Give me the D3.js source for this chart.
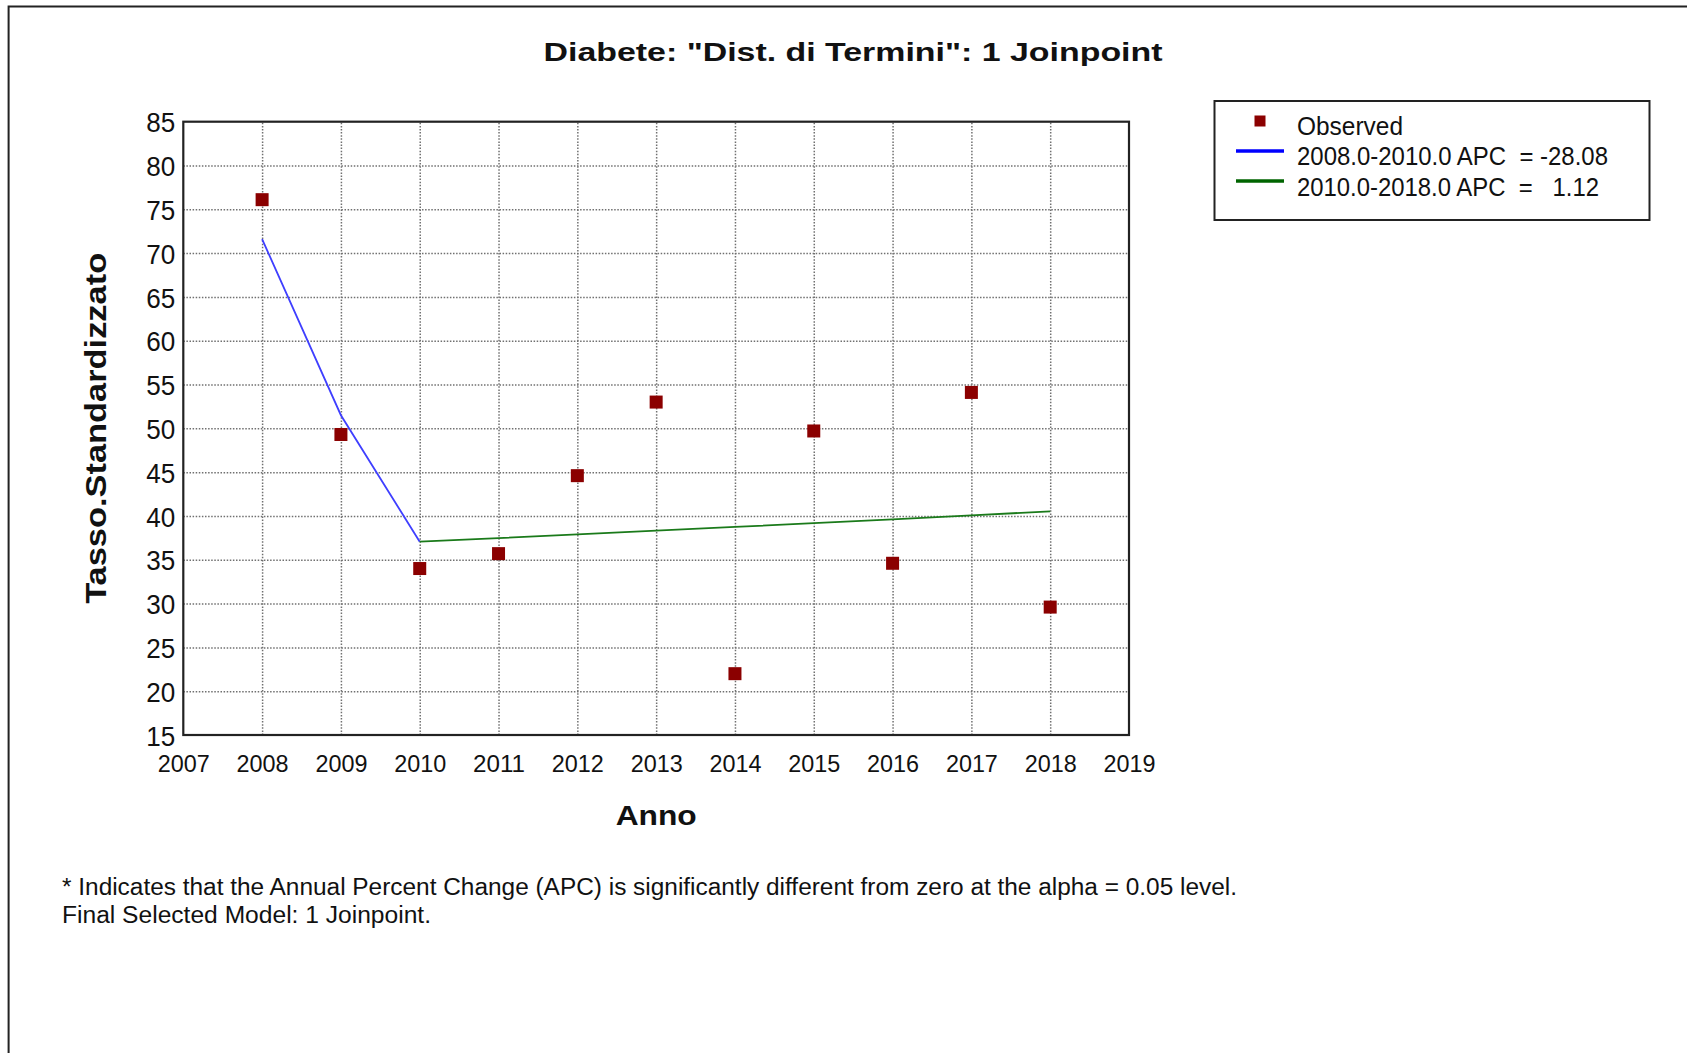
<!DOCTYPE html>
<html>
<head>
<meta charset="utf-8">
<script src="https://cdn.jsdelivr.net/npm/d3@7"></script>
<style>
  body { margin: 0; background: #fff; }
  text { font-family: "Liberation Sans", Arial, sans-serif; fill: #111; }
</style>
</head>
<body>
<div id="chart"></div>
<script>
// observed rates
const years = [2008, 2009, 2010, 2011, 2012, 2013, 2014, 2015, 2016, 2017, 2018];
const observed = [76.1, 49.3, 34.0, 35.7, 44.6, 53.0, 22.0, 49.7, 34.6, 54.1, 29.6];

// joinpoint fitted segments
const seg1Years = [2008, 2009, 2010];
const seg1Fit = [71.6, 51.5, 37.06];
const seg2Years = [2010, 2011, 2012, 2013, 2014, 2015, 2016, 2017, 2018];
const seg2Fit = [37.06, 37.47, 37.89, 38.32, 38.75, 39.18, 39.62, 40.07, 40.52];

// axis ticks
const xTicks = [2007, 2008, 2009, 2010, 2011, 2012, 2013, 2014, 2015, 2016, 2017, 2018, 2019];
const yTicks = [15, 20, 25, 30, 35, 40, 45, 50, 55, 60, 65, 70, 75, 80, 85];
const xGrid = [2008, 2009, 2010, 2011, 2012, 2013, 2014, 2015, 2016, 2017, 2018];
const yGrid = [20, 25, 30, 35, 40, 45, 50, 55, 60, 65, 70, 75, 80];

// texts
const title = 'Diabete: "Dist. di Termini": 1 Joinpoint';
const xTitle = "Anno";
const yTitle = "Tasso.Standardizzato";
const legendLabels = ["Observed", "2008.0-2010.0 APC  = -28.08", "2010.0-2018.0 APC  =   1.12"];
const notes = ["* Indicates that the Annual Percent Change (APC) is significantly different from zero at the alpha = 0.05 level.",
  "Final Selected Model: 1 Joinpoint."];

var W = 1687, H = 1053;
var pLeft = 183.3, pTop = 121.7, pRight = 1129, pBottom = 735;

var svg = d3.select("#chart")
  .append("svg")
  .attr("width", W)
  .attr("height", H);

// outer frame (top and left edges only visible)
svg.append("path")
  .attr("d", "M8.6," + H + "V6.5H" + W)
  .attr("fill", "none")
  .attr("stroke", "#222")
  .attr("stroke-width", 2);

var x = d3.scaleLinear().domain([2007, 2019]).range([pLeft, pRight]);
var y = d3.scaleLinear().domain([15, 85]).range([pBottom, pTop]);

// grid lines
var gx = svg.append("g")
  .attr("transform", "translate(0," + pBottom + ")")
  .call(d3.axisBottom(x).tickValues(xGrid).tickSize(-(pBottom - pTop)).tickFormat(""));
var gy = svg.append("g")
  .attr("transform", "translate(" + pLeft + ",0)")
  .call(d3.axisLeft(y).tickValues(yGrid).tickSize(-(pRight - pLeft)).tickFormat(""));
[gx, gy].forEach(function(g) {
  g.select(".domain").remove();
  g.selectAll("line")
    .attr("stroke", "#707070")
    .attr("stroke-width", 1.5)
    .attr("stroke-dasharray", "1.5,1.6");
});

// tick labels
var ax = svg.append("g")
  .attr("transform", "translate(0," + pBottom + ")")
  .call(d3.axisBottom(x).tickValues(xTicks).tickSize(0).tickPadding(20).tickFormat(d3.format("d")));
ax.select(".domain").remove();
ax.selectAll("text")
  .style("font-size", "24.5px")
  .style("font-family", "Liberation Sans, Arial, sans-serif")
  .attr("fill", "#111")
  .attr("textLength", 52)
  .attr("lengthAdjust", "spacingAndGlyphs");

var ay = svg.append("g")
  .attr("transform", "translate(" + pLeft + ",0)")
  .call(d3.axisLeft(y).tickValues(yTicks).tickSize(0).tickPadding(8));
ay.select(".domain").remove();
ay.selectAll("text")
  .style("font-size", "28px")
  .style("font-family", "Liberation Sans, Arial, sans-serif")
  .attr("fill", "#111")
  .attr("dy", "0.36em")
  .attr("textLength", 29)
  .attr("lengthAdjust", "spacingAndGlyphs");

// plot frame
svg.append("rect")
  .attr("x", pLeft)
  .attr("y", pTop)
  .attr("width", pRight - pLeft)
  .attr("height", pBottom - pTop)
  .attr("fill", "none")
  .attr("stroke", "#222")
  .attr("stroke-width", 2.2);

// model lines
var line = d3.line().x(d => x(d[0])).y(d => y(d[1]));
svg.append("path")
  .datum(d3.zip(seg1Years, seg1Fit))
  .attr("d", line)
  .attr("fill", "none")
  .attr("stroke", "#3f3fff")
  .attr("stroke-width", 1.8);
svg.append("path")
  .datum(d3.zip(seg2Years, seg2Fit))
  .attr("d", line)
  .attr("fill", "none")
  .attr("stroke", "#1a7a1a")
  .attr("stroke-width", 1.8);

// observed points
var ms = 13;
svg.append("g").selectAll("rect")
  .data(d3.zip(years, observed))
  .enter().append("rect")
  .attr("x", d => x(d[0]) - ms / 2)
  .attr("y", d => y(d[1]) - ms / 2)
  .attr("width", ms)
  .attr("height", ms)
  .attr("fill", "#8b0000");

// titles
svg.append("text")
  .attr("x", 853)
  .attr("y", 61)
  .attr("text-anchor", "middle")
  .style("font-size", "26px")
  .style("font-weight", "bold")
  .attr("textLength", 619)
  .attr("lengthAdjust", "spacingAndGlyphs")
  .text(title);

svg.append("text")
  .attr("x", (pLeft + pRight) / 2)
  .attr("y", 825)
  .attr("text-anchor", "middle")
  .style("font-size", "28px")
  .style("font-weight", "bold")
  .attr("textLength", 81)
  .attr("lengthAdjust", "spacingAndGlyphs")
  .text(xTitle);

svg.append("text")
  .attr("transform", "translate(106," + ((pTop + pBottom) / 2) + ") rotate(-90)")
  .attr("text-anchor", "middle")
  .style("font-size", "29px")
  .style("font-weight", "bold")
  .attr("textLength", 351)
  .attr("lengthAdjust", "spacingAndGlyphs")
  .text(yTitle);

// legend
var lg = svg.append("g");
lg.append("rect")
  .attr("x", 1214.5)
  .attr("y", 101)
  .attr("width", 435)
  .attr("height", 119)
  .attr("fill", "#fff")
  .attr("stroke", "#222")
  .attr("stroke-width", 2);
lg.append("rect")
  .attr("x", 1260 - 5.5)
  .attr("y", 121 - 5.5)
  .attr("width", 11)
  .attr("height", 11)
  .attr("fill", "#8b0000");
lg.append("line")
  .attr("x1", 1236).attr("x2", 1284)
  .attr("y1", 151).attr("y2", 151)
  .attr("stroke", "#0000ff")
  .attr("stroke-width", 3.5);
lg.append("line")
  .attr("x1", 1236).attr("x2", 1284)
  .attr("y1", 181).attr("y2", 181)
  .attr("stroke", "#006400")
  .attr("stroke-width", 3.5);
var legendBase = [135, 165, 196];
var legendWidths = [106, 311, 302];
lg.selectAll("text.lab")
  .data(legendLabels)
  .enter().append("text")
  .attr("class", "lab")
  .attr("x", 1297)
  .attr("y", (d, i) => legendBase[i])
  .style("font-size", "25px")
  .style("white-space", "pre")
  .attr("xml:space", "preserve")
  .attr("textLength", (d, i) => legendWidths[i])
  .attr("lengthAdjust", "spacingAndGlyphs")
  .text(d => d);

// footnote
var noteBase = [895, 923];
var noteWidths = [1175, 369];
svg.selectAll("text.note")
  .data(notes)
  .enter().append("text")
  .attr("class", "note")
  .attr("x", 62)
  .attr("y", (d, i) => noteBase[i])
  .style("font-size", "23px")
  .attr("textLength", (d, i) => noteWidths[i])
  .attr("lengthAdjust", "spacingAndGlyphs")
  .text(d => d);
</script>
</body>
</html>
